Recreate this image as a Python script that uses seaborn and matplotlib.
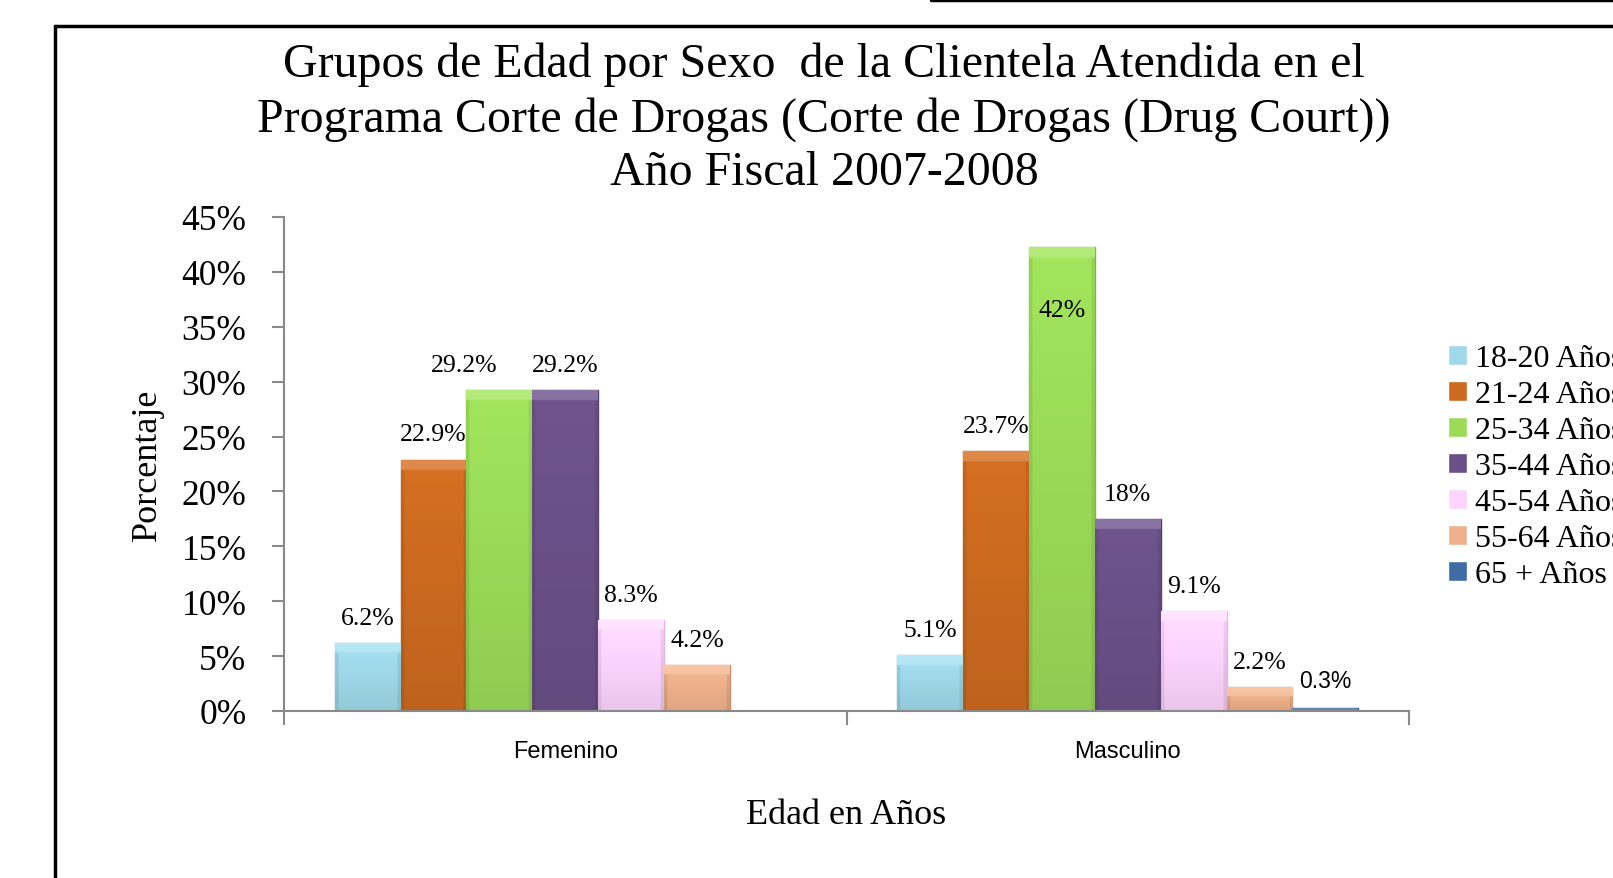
import matplotlib
matplotlib.use("Agg")
import matplotlib.pyplot as plt
from matplotlib.lines import Line2D
from matplotlib.colors import to_rgb
import seaborn as sns
import pandas as pd
import numpy as np

# datos
sexos = ["Femenino", "Masculino"]
grupos = ["18-20 Años", "21-24 Años", "25-34 Años", "35-44 Años",
          "45-54 Años", "55-64 Años", "65 + Años"]
femenino = [6.2, 22.9, 29.2, 29.2, 8.3, 4.2, 0.0]
masculino = [5.1, 23.7, 42.3, 17.5, 9.1, 2.2, 0.3]
etiq_fem = ["6.2%", "22.9%", "29.2%", "29.2%", "8.3%", "4.2%", ""]
etiq_masc = ["5.1%", "23.7%", "42%", "18%", "9.1%", "2.2%", "0.3%"]
colores = ["#9ED8E9", "#CC6A20", "#9BDB58", "#6A5088",
           "#FDD4FD", "#EEB18B", "#3F6CA5"]
bordes = ["#7FB8C9", "#A8541A", "#7DB646", "#54406E",
          "#E0B4E0", "#C88E6C", "#2E5484"]

rows = []
for s, vals in zip(sexos, [femenino, masculino]):
    for g, v in zip(grupos, vals):
        rows.append({"Sexo": s, "Grupo": g, "Valor": v})
df = pd.DataFrame(rows)

sns.set_style("white")
plt.rcParams["font.family"] = ["Liberation Serif", "DejaVu Serif"]
plt.rcParams["text.color"] = "black"
plt.rcParams["axes.labelcolor"] = "black"
plt.rcParams["xtick.color"] = "black"
plt.rcParams["ytick.color"] = "black"

W, H = 1613, 879
fig = plt.figure(figsize=(W / 100, H / 100), dpi=100)
ax = fig.add_axes([284 / W, 1 - 712 / H, (1409 - 284) / W, (712 - 218) / H])

sns.barplot(data=df, x="Sexo", y="Valor", hue="Grupo", hue_order=grupos,
            order=sexos, palette=colores, saturation=1, width=0.82,
            errorbar=None, ax=ax, legend=True)


def relleno(color, alto):
    # degradado suave con bisel claro arriba, como en Excel
    n, m = 160, 40
    c = np.array(to_rgb(color))
    t = np.linspace(0, 1, n)[:, None, None]
    u = np.linspace(0, 1, m)[None, :, None]
    img = c * (1.05 - 0.12 * t) * np.ones((1, m, 1))
    banda = (t * alto < 0.9)
    img = np.where(banda, img * 0.82 + 0.18, img)
    lado = (u < 0.04) | (u > 0.96)
    img = np.where(lado & ~banda, img * 0.92, img)
    return np.clip(img, 0, 1)


for i, cont in enumerate(ax.containers):
    for j, p in enumerate(cont.patches):
        p.set_edgecolor(bordes[i])
        p.set_linewidth(1.0)
        val = [femenino, masculino][j][i]
        lab = [etiq_fem, etiq_masc][j][i]
        if val == 0:
            p.set_linewidth(0)
            continue
        x0, w, h = p.get_x(), p.get_width(), p.get_height()
        im = ax.imshow(relleno(colores[i], h), extent=[x0, x0 + w, 0, h],
                       aspect="auto", origin="upper", zorder=p.get_zorder() + 0.1,
                       interpolation="bilinear")
        im.set_clip_path(p)
        if not lab:
            continue
        cx = x0 + w / 2
        if i == 2 and j == 0:
            cx -= w * 0.53
        if val > 40:
            ax.text(cx, val - 5.8, lab, ha="center", va="center", fontsize=18.5, zorder=5)
        elif val < 1:
            ax.text(cx, val + 2.5, lab, ha="center", va="center", fontsize=16.5,
                    family=["Liberation Sans", "DejaVu Sans"])
        else:
            ax.text(cx, val + 2.3, lab, ha="center", va="center", fontsize=18.5)

ax.set_ylim(0, 45)
ax.set_xlim(-0.5, 1.5)
ax.set_yticks(range(0, 46, 5))
ax.set_yticklabels([f"{v}%" for v in range(0, 46, 5)], fontsize=25.5)
ax.set_xticks([0, 1])
ax.set_xticklabels(sexos, fontsize=17, family=["Liberation Sans", "DejaVu Sans"])
ax.set_xticks([-0.5, 0.5, 1.5], minor=True)
ax.tick_params(axis="x", which="major", length=0, pad=21)
ax.tick_params(axis="x", which="minor", bottom=True, length=10, width=1.5,
               color="#898989", direction="out")
ax.tick_params(axis="y", length=9, width=1.5, color="#898989", direction="out",
               pad=18, left=True)

for side in ["top", "right"]:
    ax.spines[side].set_visible(False)
for side in ["left", "bottom"]:
    ax.spines[side].set_color("#898989")
    ax.spines[side].set_linewidth(1.5)

ax.set_xlabel("Edad en Años", fontsize=26)
ax.set_ylabel("Porcentaje", fontsize=26)
ax.xaxis.label.set_va("center")
ax.yaxis.label.set_va("center")
ax.xaxis.set_label_coords(0.5, (712 - 816) / 494)
ax.yaxis.set_label_coords((147 - 284) / 1125, 0.5)

fig.text(824 / W, 1 - 119 / H,
         "Grupos de Edad por Sexo  de la Clientela Atendida en el\n"
         "Programa Corte de Drogas (Corte de Drogas (Drug Court))\n"
         "Año Fiscal 2007-2008",
         ha="center", va="center", fontsize=34.5, linespacing=1.28)

leg = ax.legend(loc="upper left", bbox_to_anchor=(1448 / W, 1 - 345 / H),
                bbox_transform=fig.transFigure, frameon=False, fontsize=23,
                handlelength=0.6, handleheight=0.6, handletextpad=0.25,
                labelspacing=0.22, borderpad=0, borderaxespad=0)

# marco
fig.add_artist(Line2D([55 / W, 55 / W], [0, 1 - 27 / H], transform=fig.transFigure,
                      color="black", lw=2.5))
fig.add_artist(Line2D([55 / W, 1], [1 - 27 / H, 1 - 27 / H], transform=fig.transFigure,
                      color="black", lw=2.5))
fig.add_artist(Line2D([931 / W, 1], [1 - 1 / H, 1 - 1 / H], transform=fig.transFigure,
                      color="black", lw=2.5))

fig.savefig("out.png", dpi=100)
